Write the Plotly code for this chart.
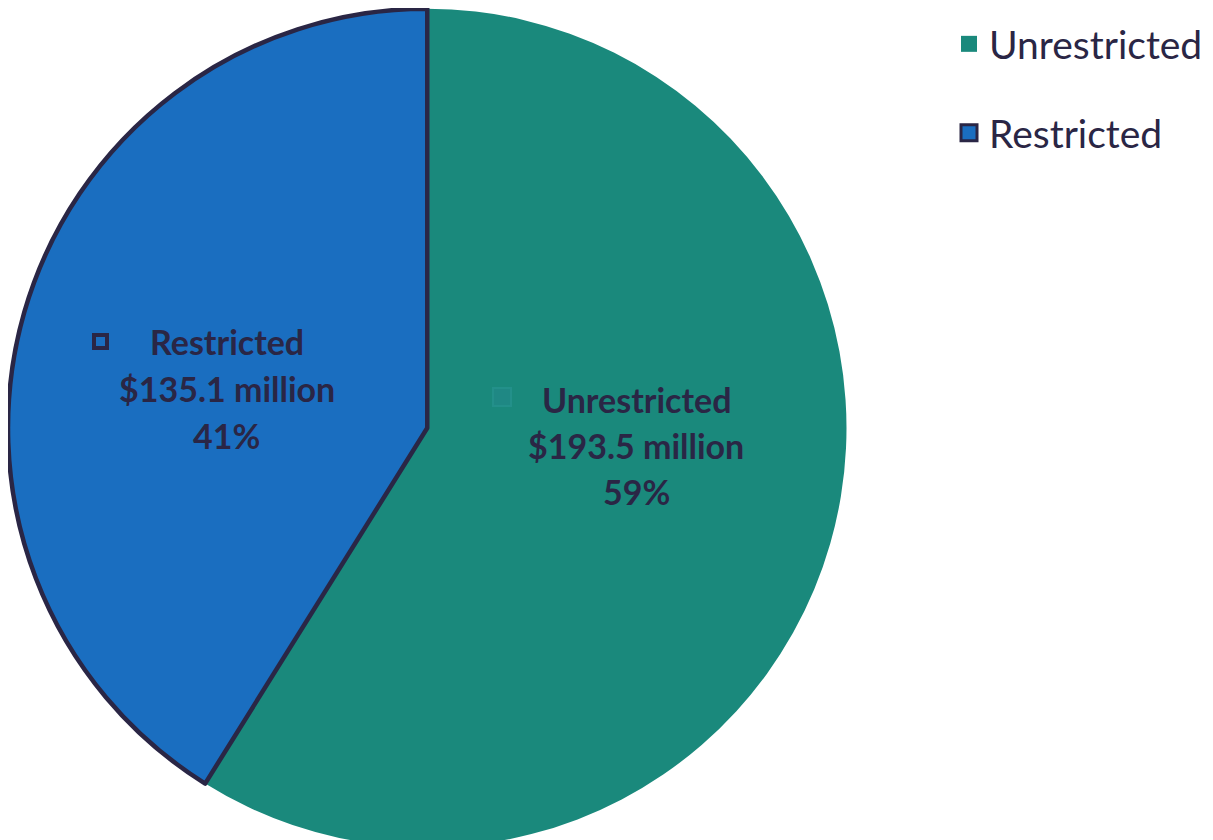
import plotly.graph_objects as go

# ---- data ----
labels = ["Unrestricted", "Restricted"]
values_musd = [193.5, 135.1]
colors = ["#1a897c", "#1a6ec0"]
outline_colors = ["#1a897c", "#2a2645"]
outline_widths = [0, 4.5]

W, H = 1213, 840
OFF = 8  # page body margin offset
total = sum(values_musd)
pcts = [round(v / total * 100) for v in values_musd]

def px(x, y):
    # reference page pixels -> paper coords
    return (x - OFF) / W, 1 - (y - OFF) / H

fig = go.Figure()
fig.add_trace(go.Pie(
    labels=labels,
    values=values_musd,
    sort=False,
    direction="clockwise",
    rotation=0,
    marker=dict(colors=colors, line=dict(color=outline_colors, width=outline_widths)),
    textinfo="none",
    hoverinfo="label+value+percent",
    domain=dict(x=[0, 838.5 / W], y=[0, 1]),
    showlegend=False,
))

# legend entries (one legend per category, so spacing can follow the reference)
legend_tops = [12, 101]
for i, lab in enumerate(labels):
    lname = "legend" if i == 0 else f"legend{i + 1}"
    fig.add_trace(go.Scatter(
        x=[None], y=[None], mode="markers", name=lab,
        marker=dict(symbol="square", size=16, color=colors[i],
                    line=dict(color=outline_colors[i], width=3 if i == 1 else 0)),
        legend=lname, showlegend=True, hoverinfo="skip",
    ))

txt_color = "#2a2645"
lab_font = dict(family="Lato", size=34, color=txt_color, weight="bold")
label_centers = [(636, 399), (226.5, 342)]
line_gap = 46.5
for i, lab in enumerate(labels):
    cx, cy = label_centers[i]
    lines = [lab, f"${values_musd[i]:.1f} million", f"{pcts[i]}%"]
    for k, t in enumerate(lines):
        x, y = px(cx, cy + k * line_gap)
        fig.add_annotation(x=x, y=y, xref="paper", yref="paper", text=t,
                           showarrow=False, font=lab_font, xanchor="center", yanchor="middle")

# small legend-key squares inside the data labels
sx, sy = px(91.5, 341.5)
fig.add_annotation(x=sx, y=sy, xref="paper", yref="paper", text="", showarrow=False,
                   width=9, height=9, bordercolor=txt_color, borderwidth=4, borderpad=0,
                   bgcolor=colors[1])
ux, uy = px(502, 397)
fig.add_annotation(x=ux, y=uy, xref="paper", yref="paper", text="", showarrow=False,
                   width=16, height=16, bordercolor="#23908a", borderwidth=2, borderpad=0,
                   bgcolor="#1f8884")

leg_font = dict(family="Lato", size=39, color=txt_color)
legends = {}
for i, top in enumerate(legend_tops):
    lname = "legend" if i == 0 else f"legend{i + 1}"
    lx, ly = px(949, top)
    legends[lname] = dict(x=lx, y=ly, xanchor="left", yanchor="top", font=leg_font,
                          bgcolor="rgba(0,0,0,0)", itemsizing="trace")

fig.update_layout(
    width=W, height=H,
    margin=dict(l=0, r=0, t=0, b=0),
    paper_bgcolor="white", plot_bgcolor="white",
    xaxis=dict(visible=False), yaxis=dict(visible=False),
    **legends,
)

fig.write_html("out.html")
